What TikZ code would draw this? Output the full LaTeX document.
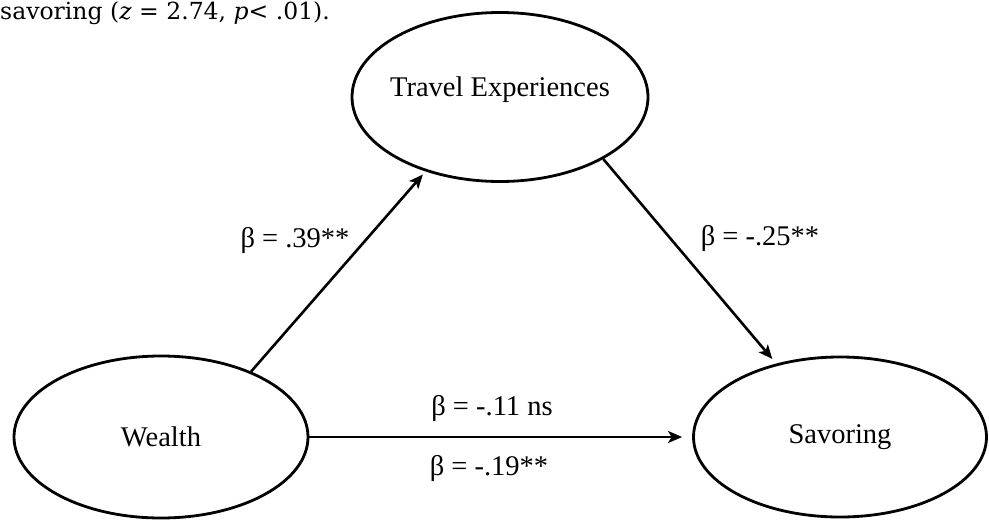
\documentclass[tikz,border=0pt]{standalone}
\usepackage{fontspec}
\setmainfont{Liberation Serif}
\newfontfamily\capfont{DejaVu Serif}
\usetikzlibrary{shapes.geometric,arrows.meta}
\begin{document}
\begin{tikzpicture}[x=1pt,y=-1pt,
  var/.style={ellipse, draw, line width=2.8pt, inner sep=0pt, font=\fontsize{28.5}{30}\selectfont},
  conn/.style={line width=2.6pt, -{Stealth[length=14pt,width=12pt,inset=3.5pt]}},
  lab/.style={inner sep=0pt, font=\fontsize{28.5}{30}\selectfont},
  captxt/.style={inner sep=0pt, anchor=west, font=\capfont\fontsize{23.5}{26}\selectfont}]
\useasboundingbox (0,0) rectangle (989,522);
\node[var, minimum width=296pt, minimum height=169pt] (travel) at (500,97) {};
\node[lab] (traveltxt) at (500,90) {Travel Experiences};
\node[var, minimum width=294pt, minimum height=162pt] (wealth) at (161,437) {Wealth};
\node[var, minimum width=293pt, minimum height=160pt] (savor) at (840,437) {Savoring};
\node[captxt] (cap) at (0,13) {savoring (\textit{z} = 2.74, \textit{p}< .01).};
\draw[conn, shorten >=4pt] (wealth.36.6) -- (travel.225.4);
\draw[conn, shorten >=6pt] (travel.-31.8) -- (savor.131.6);
\draw[conn, shorten >=10pt] (wealth.east) -- (savor.west);
\node[lab] (l1) at (295,240) {β = .39**};
\node[lab] (l2) at (760,238) {β = -.25**};
\node[lab] (l3) at (492,408) {β = -.11 ns};
\node[lab] (l4) at (489,468) {β = -.19**};
\end{tikzpicture}
\end{document}
